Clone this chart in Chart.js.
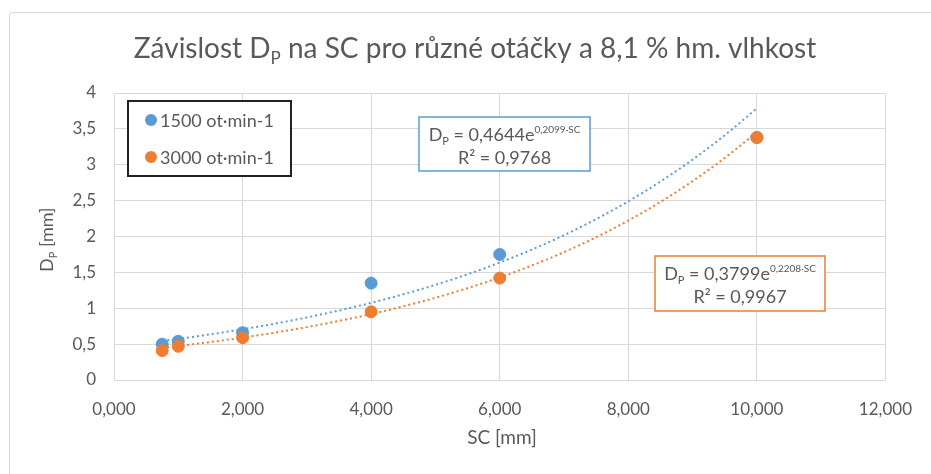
<!DOCTYPE html>
<html>
<head>
<meta charset="utf-8">
<script src="https://cdn.jsdelivr.net/npm/chart.js@4.4.1/dist/chart.umd.min.js"></script>
<style>
  html, body { margin: 0; padding: 0; background: #fff; }
  #wrap { position: relative; width: 931px; height: 474px; }
  #frame { position: absolute; left: 9px; top: 12px; width: 940px; height: 480px; border: 1px solid #d9d9d9; border-radius: 3px; }
  canvas { position: absolute; left: 0; top: 0; }
</style>
</head>
<body>
<div id="wrap">
  <div id="frame"></div>
  <canvas id="chart" width="931" height="474"></canvas>
</div>
<script>
const FONT = 'Lato, "Open Sans", sans-serif';
const GREY = '#595959';
const BLUE = '#5B9BD5';
const ORANGE = '#ED7D31';

// SC [mm]
const sc = [0.75, 1, 2, 4, 6, 10];
// Dp [mm]
const dp1500 = [0.50, 0.54, 0.66, 1.35, 1.75, 3.38];
const dp3000 = [0.41, 0.47, 0.59, 0.95, 1.42, 3.38];
const legendLabels = ['1500 ot·min-1', '3000 ot·min-1'];

// exponential trend lines from the chart: Dp = a * e^(b*SC)
const trend1500 = [0.4644, 0.2099];
const trend3000 = [0.3799, 0.2208];
const r2 = ['0,9768', '0,9967'];

const xTicks = [0, 2, 4, 6, 8, 10, 12];
const yTicks = [0, 0.5, 1, 1.5, 2, 2.5, 3, 3.5, 4];

function pts(xs, ys) { return xs.map((x, i) => ({ x: x, y: ys[i] })); }
function trendPts(coef) {
  const out = [];
  for (let x = sc[0]; x <= sc[sc.length - 1] + 1e-9; x += 0.125) {
    out.push({ x: x, y: coef[0] * Math.exp(coef[1] * x) });
  }
  return out;
}
function comma(v, d) { return (d == null ? String(v) : v.toFixed(d)).replace('.', ','); }

// draws "D" with subscript p, returns width
function drawDp(c, x, y, size, color) {
  c.fillStyle = color;
  c.font = size + 'px ' + FONT;
  c.fillText('D', x, y);
  const w = c.measureText('D').width;
  c.font = Math.round(size * 0.62) + 'px ' + FONT;
  c.fillText('P', x + w, y + size * 0.22);
  return w + c.measureText('P').width;
}
function dpWidth(c, size) {
  c.font = size + 'px ' + FONT;
  const w = c.measureText('D').width;
  c.font = Math.round(size * 0.62) + 'px ' + FONT;
  return w + c.measureText('P').width;
}

const extras = {
  id: 'extras',
  afterDraw(chart) {
    const c = chart.ctx;
    c.save();
    c.textBaseline = 'alphabetic';
    c.textAlign = 'left';

    // title
    const tSize = 28;
    const parts = ['Závislost ', ' na SC pro různé otáčky a 8,1 % hm. vlhkost'];
    const dW = dpWidth(c, tSize);
    c.font = tSize + 'px ' + FONT;
    const w0 = c.measureText(parts[0]).width;
    const w2 = c.measureText(parts[1]).width;
    let tx = 475 - (w0 + dW + w2) / 2;
    const ty = 58;
    c.fillStyle = GREY;
    c.fillText(parts[0], tx, ty);
    tx += w0;
    tx += drawDp(c, tx, ty, tSize, GREY);
    c.font = tSize + 'px ' + FONT;
    c.fillText(parts[1], tx, ty);

    // axis titles
    c.font = '19px ' + FONT;
    c.fillStyle = GREY;
    c.textAlign = 'center';
    c.fillText('SC [mm]', 502, 444);
    c.textAlign = 'left';
    c.save();
    c.translate(53, 272);
    c.rotate(-Math.PI / 2);
    const ax = drawDp(c, 0, 0, 18, GREY);
    c.font = '18px ' + FONT;
    c.fillText(' [mm]', ax, 0);
    c.restore();

    // legend box
    c.fillStyle = '#fff';
    c.fillRect(128, 101, 163, 75);
    c.strokeStyle = '#222';
    c.lineWidth = 2;
    c.strokeRect(128, 101, 163, 75);
    [BLUE, ORANGE].forEach((col, i) => {
      const cy = 120 + i * 37;
      c.beginPath();
      c.arc(151, cy, 6, 0, Math.PI * 2);
      c.fillStyle = col;
      c.fill();
      c.fillStyle = GREY;
      c.font = '18px ' + FONT;
      c.textBaseline = 'middle';
      c.fillText(legendLabels[i], 160, cy + 1);
    });
    c.textBaseline = 'alphabetic';

    // equation boxes
    const boxes = [
      { x: 419, y: 117, w: 171, h: 54, col: BLUE, coef: trend1500, r: r2[0] },
      { x: 655, y: 256, w: 170, h: 55, col: ORANGE, coef: trend3000, r: r2[1] }
    ];
    boxes.forEach(b => {
      c.fillStyle = '#fff';
      c.fillRect(b.x, b.y, b.w, b.h);
      c.strokeStyle = b.col;
      c.lineWidth = 1.5;
      c.strokeRect(b.x, b.y, b.w, b.h);
      const s1 = ' = ' + comma(b.coef[0]) + 'e';
      const sup = comma(b.coef[1]) + '·SC';
      const wDp = dpWidth(c, 18);
      c.font = '10px ' + FONT;
      const wSup = c.measureText(sup).width;
      c.font = '18px ' + FONT;
      const w1 = c.measureText(s1).width;
      let x = b.x + b.w / 2 - (wDp + w1 + wSup) / 2;
      const y1 = b.y + 24;
      x += drawDp(c, x, y1, 18, GREY);
      c.font = '18px ' + FONT;
      c.fillText(s1, x, y1);
      x += w1;
      c.font = '10px ' + FONT;
      c.fillText(sup, x, y1 - 8);
      c.font = '18px ' + FONT;
      c.textAlign = 'center';
      c.fillText('R² = ' + b.r, b.x + b.w / 2, b.y + 47);
      c.textAlign = 'left';
    });
    c.restore();
  }
};

new Chart(document.getElementById('chart'), {
  type: 'scatter',
  data: {
    datasets: [
      { label: legendLabels[0], data: pts(sc, dp1500), backgroundColor: BLUE, borderColor: BLUE, pointRadius: 6, pointHoverRadius: 6, order: 2 },
      { label: legendLabels[1], data: pts(sc, dp3000), backgroundColor: ORANGE, borderColor: ORANGE, pointRadius: 6, pointHoverRadius: 6, order: 1 },
      { label: 'trend 1500', data: trendPts(trend1500), showLine: true, borderColor: BLUE, borderWidth: 2, borderDash: [2, 3], pointRadius: 0, order: 3 },
      { label: 'trend 3000', data: trendPts(trend3000), showLine: true, borderColor: ORANGE, borderWidth: 2, borderDash: [2, 3], pointRadius: 0, order: 3 }
    ]
  },
  options: {
    responsive: false,
    animation: false,
    layout: { padding: { left: 0, top: 93, right: 37, bottom: 0 } },
    plugins: { legend: { display: false }, title: { display: false }, tooltip: { enabled: false } },
    scales: {
      x: {
        type: 'linear', min: 0, max: 12,
        afterBuildTicks: s => { s.ticks = xTicks.map(v => ({ value: v })); },
        afterFit: s => { s.height = 94; },
        grid: { color: '#d9d9d9', drawTicks: false },
        border: { display: false },
        ticks: { padding: 19, color: GREY, font: { family: FONT, size: 17 }, callback: v => comma(v, 3) }
      },
      y: {
        type: 'linear', min: 0, max: 4,
        afterBuildTicks: s => { s.ticks = yTicks.map(v => ({ value: v })); },
        afterFit: s => { s.width = 114; },
        grid: { color: '#d9d9d9', drawTicks: false },
        border: { display: false },
        ticks: { padding: 18, color: GREY, font: { family: FONT, size: 17 }, callback: v => comma(v) }
      }
    }
  },
  plugins: [extras]
});
</script>
</body>
</html>
